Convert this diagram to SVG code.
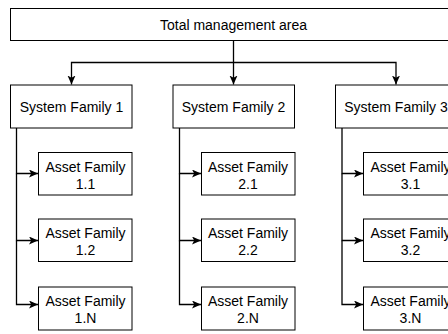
<svg xmlns="http://www.w3.org/2000/svg" width="448" height="334" viewBox="0 0 448 334">
  <style>
    .box { fill: #ffffff; stroke: #000000; stroke-width: 1; }
    .lbl { font-family: "Liberation Sans", Arial, sans-serif; font-size: 14px; fill: #000000; text-anchor: middle; }
    .wire { fill: none; stroke: #000000; stroke-width: 1.3; }
  </style>
  <defs>
    <marker id="arrow" markerUnits="userSpaceOnUse" markerWidth="10" markerHeight="10" refX="9" refY="4" orient="auto">
      <path d="M0,0 L9,4 L0,8 L2.2,4 Z" fill="#000000"/>
    </marker>
  </defs>

  <rect width="448" height="334" fill="#ffffff"/>

  <!-- connectors -->
  <g id="connectors">
    <path class="wire" d="M233.5,40.5 V84.5" marker-end="url(#arrow)"/>
    <path class="wire" d="M233.5,62.5 H71.5 V84.5" marker-end="url(#arrow)"/>
    <path class="wire" d="M233.5,62.5 H396 V84.5" marker-end="url(#arrow)"/>

    <path class="wire" d="M16.5,128 V173.5 H38" marker-end="url(#arrow)"/>
    <path class="wire" d="M16.5,173.5 V240.5 H38" marker-end="url(#arrow)"/>
    <path class="wire" d="M16.5,240.5 V304.5 H38" marker-end="url(#arrow)"/>

    <path class="wire" d="M179.5,128 V173.5 H201" marker-end="url(#arrow)"/>
    <path class="wire" d="M179.5,173.5 V240.5 H201" marker-end="url(#arrow)"/>
    <path class="wire" d="M179.5,240.5 V304.5 H201" marker-end="url(#arrow)"/>

    <path class="wire" d="M342,128 V173.5 H363" marker-end="url(#arrow)"/>
    <path class="wire" d="M342,173.5 V240.5 H363" marker-end="url(#arrow)"/>
    <path class="wire" d="M342,240.5 V304.5 H363" marker-end="url(#arrow)"/>
  </g>

  <!-- root -->
  <g id="total-area">
    <rect class="box" x="10.5" y="8.5" width="446" height="32"/>
    <text class="lbl" x="233.5" y="29.5">Total management area</text>
  </g>

  <!-- system families -->
  <g id="system-family-1">
    <rect class="box" x="10.5" y="85" width="121.5" height="43"/>
    <text class="lbl" x="71.5" y="112">System Family 1</text>
  </g>
  <g id="system-family-2">
    <rect class="box" x="173" y="85" width="121.5" height="43"/>
    <text class="lbl" x="233.5" y="112">System Family 2</text>
  </g>
  <g id="system-family-3">
    <rect class="box" x="335.5" y="85" width="121.5" height="43"/>
    <text class="lbl" x="396" y="112">System Family 3</text>
  </g>

  <!-- asset families, column 1 -->
  <g id="asset-family-1-1">
    <rect class="box" x="38.5" y="152.5" width="93.5" height="42.5"/>
    <text class="lbl" x="85.5" y="171.5">Asset Family</text>
    <text class="lbl" x="85.5" y="188.5">1.1</text>
  </g>
  <g id="asset-family-1-2">
    <rect class="box" x="38.5" y="219" width="93.5" height="42.5"/>
    <text class="lbl" x="85.5" y="238">Asset Family</text>
    <text class="lbl" x="85.5" y="255">1.2</text>
  </g>
  <g id="asset-family-1-n">
    <rect class="box" x="38.5" y="287" width="93.5" height="43"/>
    <text class="lbl" x="85.5" y="306">Asset Family</text>
    <text class="lbl" x="85.5" y="323">1.N</text>
  </g>

  <!-- asset families, column 2 -->
  <g id="asset-family-2-1">
    <rect class="box" x="201.5" y="152.5" width="93.5" height="42.5"/>
    <text class="lbl" x="248" y="171.5">Asset Family</text>
    <text class="lbl" x="248" y="188.5">2.1</text>
  </g>
  <g id="asset-family-2-2">
    <rect class="box" x="201.5" y="219" width="93.5" height="42.5"/>
    <text class="lbl" x="248" y="238">Asset Family</text>
    <text class="lbl" x="248" y="255">2.2</text>
  </g>
  <g id="asset-family-2-n">
    <rect class="box" x="201.5" y="287" width="93.5" height="43"/>
    <text class="lbl" x="248" y="306">Asset Family</text>
    <text class="lbl" x="248" y="323">2.N</text>
  </g>

  <!-- asset families, column 3 -->
  <g id="asset-family-3-1">
    <rect class="box" x="363.5" y="152.5" width="93.5" height="42.5"/>
    <text class="lbl" x="410.5" y="171.5">Asset Family</text>
    <text class="lbl" x="410.5" y="188.5">3.1</text>
  </g>
  <g id="asset-family-3-2">
    <rect class="box" x="363.5" y="219" width="93.5" height="42.5"/>
    <text class="lbl" x="410.5" y="238">Asset Family</text>
    <text class="lbl" x="410.5" y="255">3.2</text>
  </g>
  <g id="asset-family-3-n">
    <rect class="box" x="363.5" y="287" width="93.5" height="43"/>
    <text class="lbl" x="410.5" y="306">Asset Family</text>
    <text class="lbl" x="410.5" y="323">3.N</text>
  </g>
</svg>
